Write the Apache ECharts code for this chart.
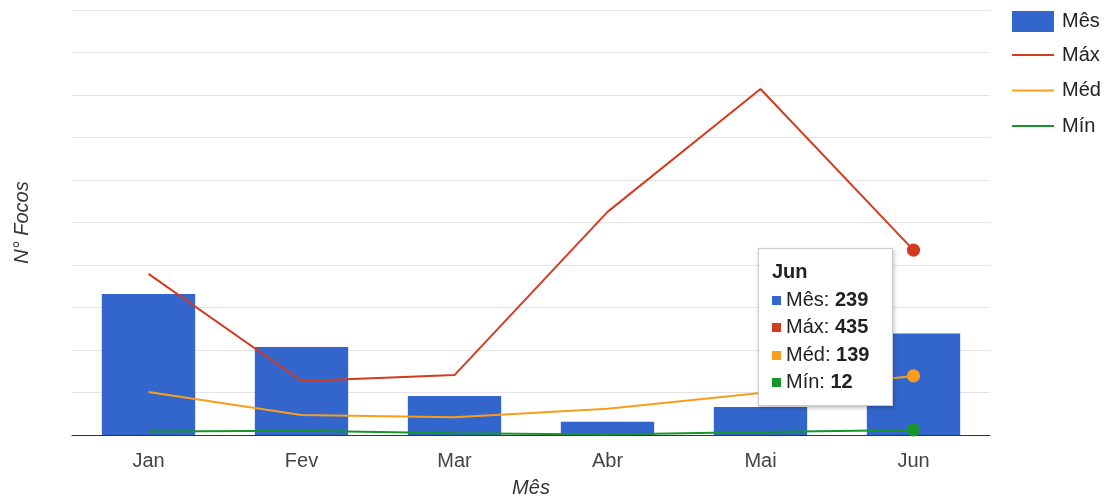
<!DOCTYPE html>
<html>
<head>
<meta charset="utf-8">
<title>Focos por mês</title>
<script src="https://cdn.jsdelivr.net/npm/echarts@6/dist/echarts.min.js"></script>
<style>
  html, body { margin: 0; padding: 0; background: #fff; }
  #chart { width: 1107px; height: 499px; }
</style>
</head>
<body>
<div id="chart"></div>
<script>
// Monthly fire-spot counts (Nº Focos)
const categories = ['Jan', 'Fev', 'Mar', 'Abr', 'Mai', 'Jun'];
const mesValues = [332, 207, 92, 31, 66, 239];
const maxValues = [379, 127, 141, 525, 814, 435];
const medValues = [101, 47, 42, 62, 99, 139];
const minValues = [8, 10, 4, 1, 7, 12];

const colors = {
  mes: '#3366cc',
  max: '#d33b20',
  med: '#f99d1c',
  min: '#17952a'
};
const FONT = 'Arial, "Liberation Sans", sans-serif';
const FS = 20;
const focusIndex = 5; // month highlighted with markers and tooltip

function lineData(values) {
  return values.map((v, i) => i === focusIndex
    ? { value: v, symbol: 'circle', symbolSize: 12 }
    : { value: v });
}

function lineSeries(name, values, color) {
  return {
    name: name,
    type: 'line',
    data: lineData(values),
    symbol: 'none',
    showSymbol: true,
    lineStyle: { color: color, width: 2 },
    itemStyle: { color: color },
    emphasis: { disabled: true },
    z: 3
  };
}

const legendText = { fontSize: FS, color: '#222', fontFamily: FONT, padding: [0, 0, 0, 3] };

const chart = echarts.init(document.getElementById('chart'), null, { renderer: 'canvas' });

chart.setOption({
  animation: false,
  textStyle: { fontFamily: FONT },
  grid: { left: 72, right: 117, top: 10, bottom: 64, containLabel: false, outerBoundsMode: 'none' },
  legend: [
    {
      orient: 'vertical',
      left: 1012,
      top: 11,
      padding: 0,
      icon: 'rect',
      itemWidth: 42,
      itemHeight: 21,
      textStyle: legendText,
      data: ['Mês']
    },
    {
      orient: 'vertical',
      left: 1012,
      top: 45,
      padding: 0,
      icon: 'rect',
      itemWidth: 42,
      itemHeight: 2,
      itemGap: 15.5,
      textStyle: legendText,
      data: ['Máx', 'Méd', 'Mín']
    }
  ],
  tooltip: {
    trigger: 'axis',
    axisPointer: { type: 'none' },
    alwaysShowContent: true,
    transitionDuration: 0,
    position: [758, 248],
    backgroundColor: '#fff',
    borderColor: '#cccccc',
    borderWidth: 1,
    padding: [9, 13, 9, 13],
    extraCssText: 'box-shadow: 1px 2px 4px rgba(0,0,0,0.25); border-radius: 0; width: 135px; box-sizing: border-box;',
    formatter: function (params) {
      const swatch = [colors.mes, colors.max, colors.med, colors.min];
      let html = '<div style="font-family:Arial, \'Liberation Sans\', sans-serif;font-size:' + FS + 'px;color:#222;line-height:27.5px;white-space:nowrap;">';
      html += '<div style="font-weight:bold;">' + params[0].axisValue + '</div>';
      params.forEach(function (p, i) {
        html += '<div><span style="display:inline-block;width:9px;height:9px;margin-right:5px;vertical-align:1px;background:' +
          swatch[i] + ';"></span>' + p.seriesName + ': <b>' + p.value + '</b></div>';
      });
      html += '</div>';
      return html;
    }
  },
  xAxis: {
    type: 'category',
    data: categories,
    name: 'Mês',
    nameLocation: 'middle',
    nameGap: 43,
    nameTextStyle: { fontSize: FS, fontStyle: 'italic', color: '#333', fontFamily: FONT },
    axisLine: { lineStyle: { color: '#333', width: 1 } },
    axisTick: { show: false },
    axisLabel: { fontSize: FS, color: '#444', margin: 16, fontFamily: FONT }
  },
  yAxis: {
    type: 'value',
    min: 0,
    max: 1000,
    interval: 100,
    name: 'N° Focos',
    nameLocation: 'middle',
    nameGap: 40,
    nameRotate: 90,
    nameTextStyle: { fontSize: FS, fontStyle: 'italic', color: '#333', fontFamily: FONT },
    axisLabel: { show: false },
    axisLine: { show: false },
    axisTick: { show: false },
    splitLine: { lineStyle: { color: '#e3e3e3', width: 1 } }
  },
  series: [
    {
      name: 'Mês',
      type: 'bar',
      data: mesValues,
      barCategoryGap: '39%',
      itemStyle: { color: colors.mes },
      emphasis: { disabled: true },
      z: 2
    },
    lineSeries('Máx', maxValues, colors.max),
    lineSeries('Méd', medValues, colors.med),
    lineSeries('Mín', minValues, colors.min)
  ]
});

chart.dispatchAction({ type: 'showTip', seriesIndex: 0, dataIndex: focusIndex });
</script>
</body>
</html>
